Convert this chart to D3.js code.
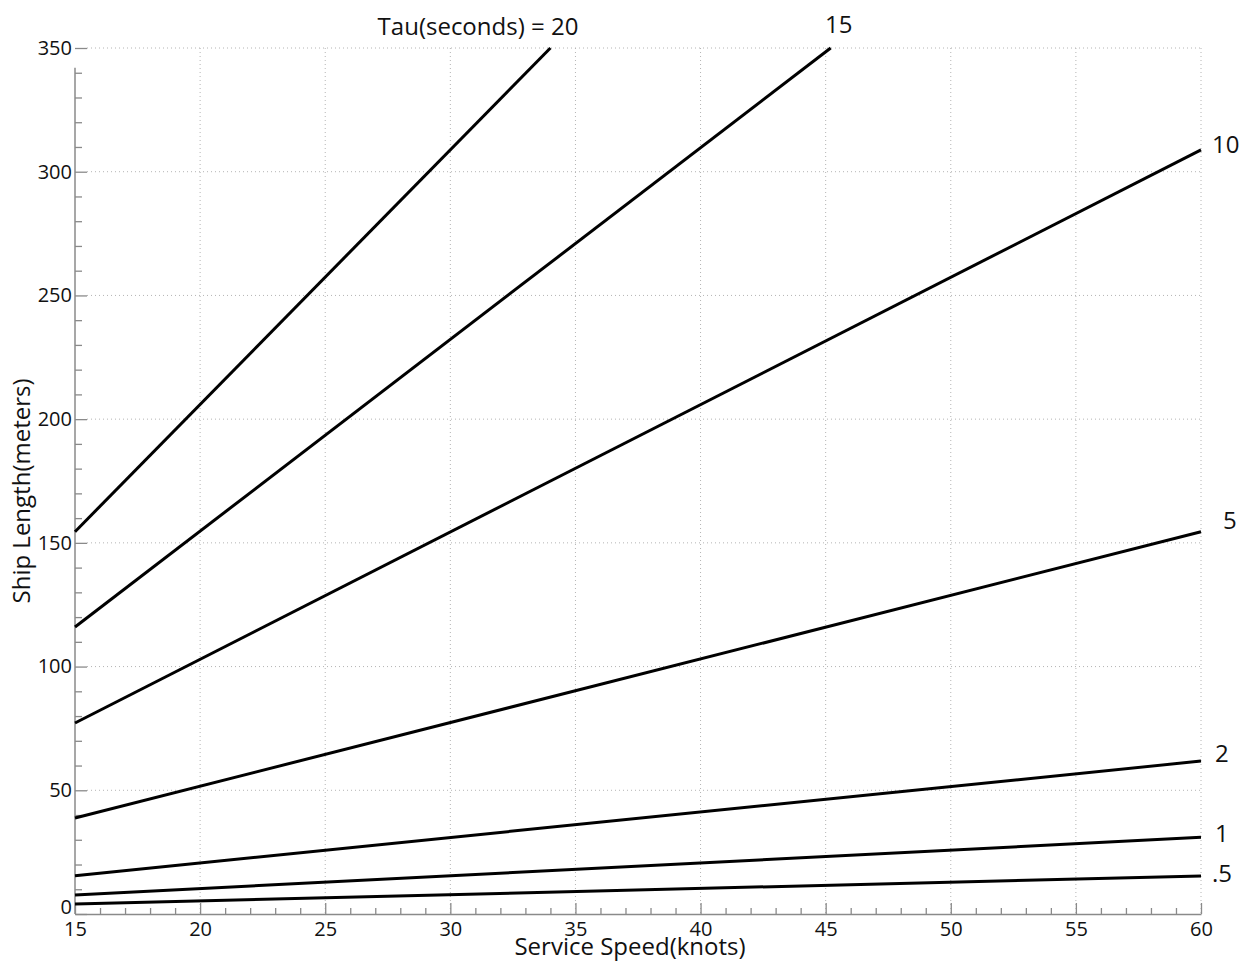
<!DOCTYPE html>
<html>
<head>
<meta charset="utf-8">
<script src="https://cdn.jsdelivr.net/npm/d3@7"></script>
<style>
  html, body { margin: 0; padding: 0; background: #fff; }
  svg { display: block; font-family: "Open Sans", "Noto Sans", sans-serif; }
</style>
</head>
<body>
<svg id="chart" width="1248" height="961"></svg>
<script>
// ---- data ----
const tauLabels   = ["20", "15", "10", "5", "2", "1", ".5"];
const startSpeed  = [15, 15, 15, 15, 15, 15, 15];
const startLength = [154.5, 116, 77.2, 38.8, 15.5, 7.7, 4.0];
const endSpeed    = [34, 45.2, 60, 60, 60, 60, 60];
const endLength   = [350, 350, 308.8, 154.5, 61.8, 31, 15.4];

const xMajorTicks = [15, 20, 25, 30, 35, 40, 45, 50, 55, 60];
const yMajorTicks = [0, 50, 100, 150, 200, 250, 300, 350];
const xGridValues = [20, 25, 30, 35, 40, 45, 50, 55, 60];
const yGridValues = [50, 100, 150, 200, 250, 300, 350];

// ---- layout ----
const svg = d3.select("#chart");
const x = d3.scaleLinear().domain([15, 60]).range([75, 1201]);
const y = d3.scaleLinear().domain([0, 350]).range([914, 48]);
const axisColor = "#8a8a8a";
const gridColor = "#b4b4b4";

// grid
svg.append("g").selectAll("line").data(xGridValues).join("line")
  .attr("x1", d => x(d)).attr("x2", d => x(d))
  .attr("y1", y(350)).attr("y2", y(0))
  .attr("stroke", gridColor).attr("stroke-width", 1)
  .attr("stroke-dasharray", "1,3");
svg.append("g").selectAll("line").data(yGridValues).join("line")
  .attr("x1", x(15) + 12).attr("x2", x(60))
  .attr("y1", d => y(d)).attr("y2", d => y(d))
  .attr("stroke", gridColor).attr("stroke-width", 1)
  .attr("stroke-dasharray", "1,3");

// x axis: minor ticks
const xMinor = d3.range(15, 61, 1).filter(v => v % 5 !== 0);
svg.append("g").attr("transform", `translate(0,${y(0)})`)
  .call(d3.axisBottom(x).tickValues(xMinor).tickSize(-6).tickFormat(""))
  .call(g => g.select(".domain").remove())
  .call(g => g.selectAll("line").attr("stroke", axisColor).attr("stroke-width", 1.3));
// x axis: major
svg.append("g").attr("transform", `translate(0,${y(0)})`)
  .call(d3.axisBottom(x).tickValues(xMajorTicks).tickSizeInner(-11).tickSizeOuter(0).tickPadding(8).tickFormat(d3.format("d")))
  .call(g => g.select(".domain").attr("stroke", axisColor).attr("stroke-width", 1.5))
  .call(g => g.selectAll("line").attr("stroke", axisColor).attr("stroke-width", 1.3))
  .call(g => g.selectAll("text").attr("fill", "#111").attr("font-size", 20)
    .attr("font-family", "'Open Sans', sans-serif"));

// y axis: minor ticks
const yMinor = d3.range(10, 350, 10).filter(v => v % 50 !== 0);
svg.append("g").attr("transform", `translate(${x(15)},0)`)
  .call(d3.axisLeft(y).tickValues(yMinor).tickSize(-7).tickFormat(""))
  .call(g => g.select(".domain").remove())
  .call(g => g.selectAll("line").attr("stroke", axisColor).attr("stroke-width", 1.3));
// y axis: major
svg.append("g").attr("transform", `translate(${x(15)},0)`)
  .call(d3.axisLeft(y).tickValues(yMajorTicks).tickSizeInner(-12).tickSizeOuter(0).tickPadding(3).tickFormat(d3.format("d")))
  .call(g => g.select(".domain").remove())
  .call(g => g.selectAll("line").attr("stroke", axisColor).attr("stroke-width", 1.3))
  .call(g => g.selectAll("text").attr("fill", "#111").attr("font-size", 20)
    .attr("font-family", "'Open Sans', sans-serif")
    .attr("dy", d => d === 0 ? "-0.05em" : "0.32em"));
// y axis line (stops just short of the top tick as in the reference)
svg.append("line")
  .attr("x1", x(15)).attr("x2", x(15))
  .attr("y1", y(342)).attr("y2", y(0))
  .attr("stroke", axisColor).attr("stroke-width", 1.5);

// series lines
const series = tauLabels.map((t, i) => ({
  tau: t,
  pts: [[startSpeed[i], startLength[i]], [endSpeed[i], endLength[i]]]
}));
const line = d3.line().x(d => x(d[0])).y(d => y(d[1]));
svg.append("g").selectAll("path").data(series).join("path")
  .attr("d", d => line(d.pts))
  .attr("fill", "none").attr("stroke", "#000").attr("stroke-width", 3);

// series labels
const labelFont = 24;
// "20" is part of the title text
svg.append("text").attr("x", 478).attr("y", 35).attr("text-anchor", "middle")
  .attr("font-size", labelFont).attr("fill", "#111")
  .text("Tau(seconds) = " + tauLabels[0]);
// "15" above the end of its line
svg.append("text").attr("x", x(endSpeed[1]) + 8).attr("y", y(endLength[1]) - 15)
  .attr("text-anchor", "middle").attr("font-size", labelFont).attr("fill", "#111")
  .text(tauLabels[1]);
// remaining labels at the right end
const rightDx = [0, 0, 11, 22, 14, 14, 11];
const rightDy = [0, 0, 3, -3, 1, 5, 6];
series.slice(2).forEach((s, j) => {
  const i = j + 2;
  svg.append("text")
    .attr("x", x(endSpeed[i]) + rightDx[i])
    .attr("y", y(endLength[i]) + rightDy[i])
    .attr("font-size", labelFont).attr("fill", "#111")
    .text(s.tau);
});

// axis titles
svg.append("text").attr("x", 630).attr("y", 955).attr("text-anchor", "middle")
  .attr("font-size", 24).attr("fill", "#111").text("Service Speed(knots)");
svg.append("text").attr("transform", "translate(30,491) rotate(-90)")
  .attr("text-anchor", "middle").attr("font-size", 24).attr("fill", "#111")
  .text("Ship Length(meters)");
</script>
</body>
</html>
